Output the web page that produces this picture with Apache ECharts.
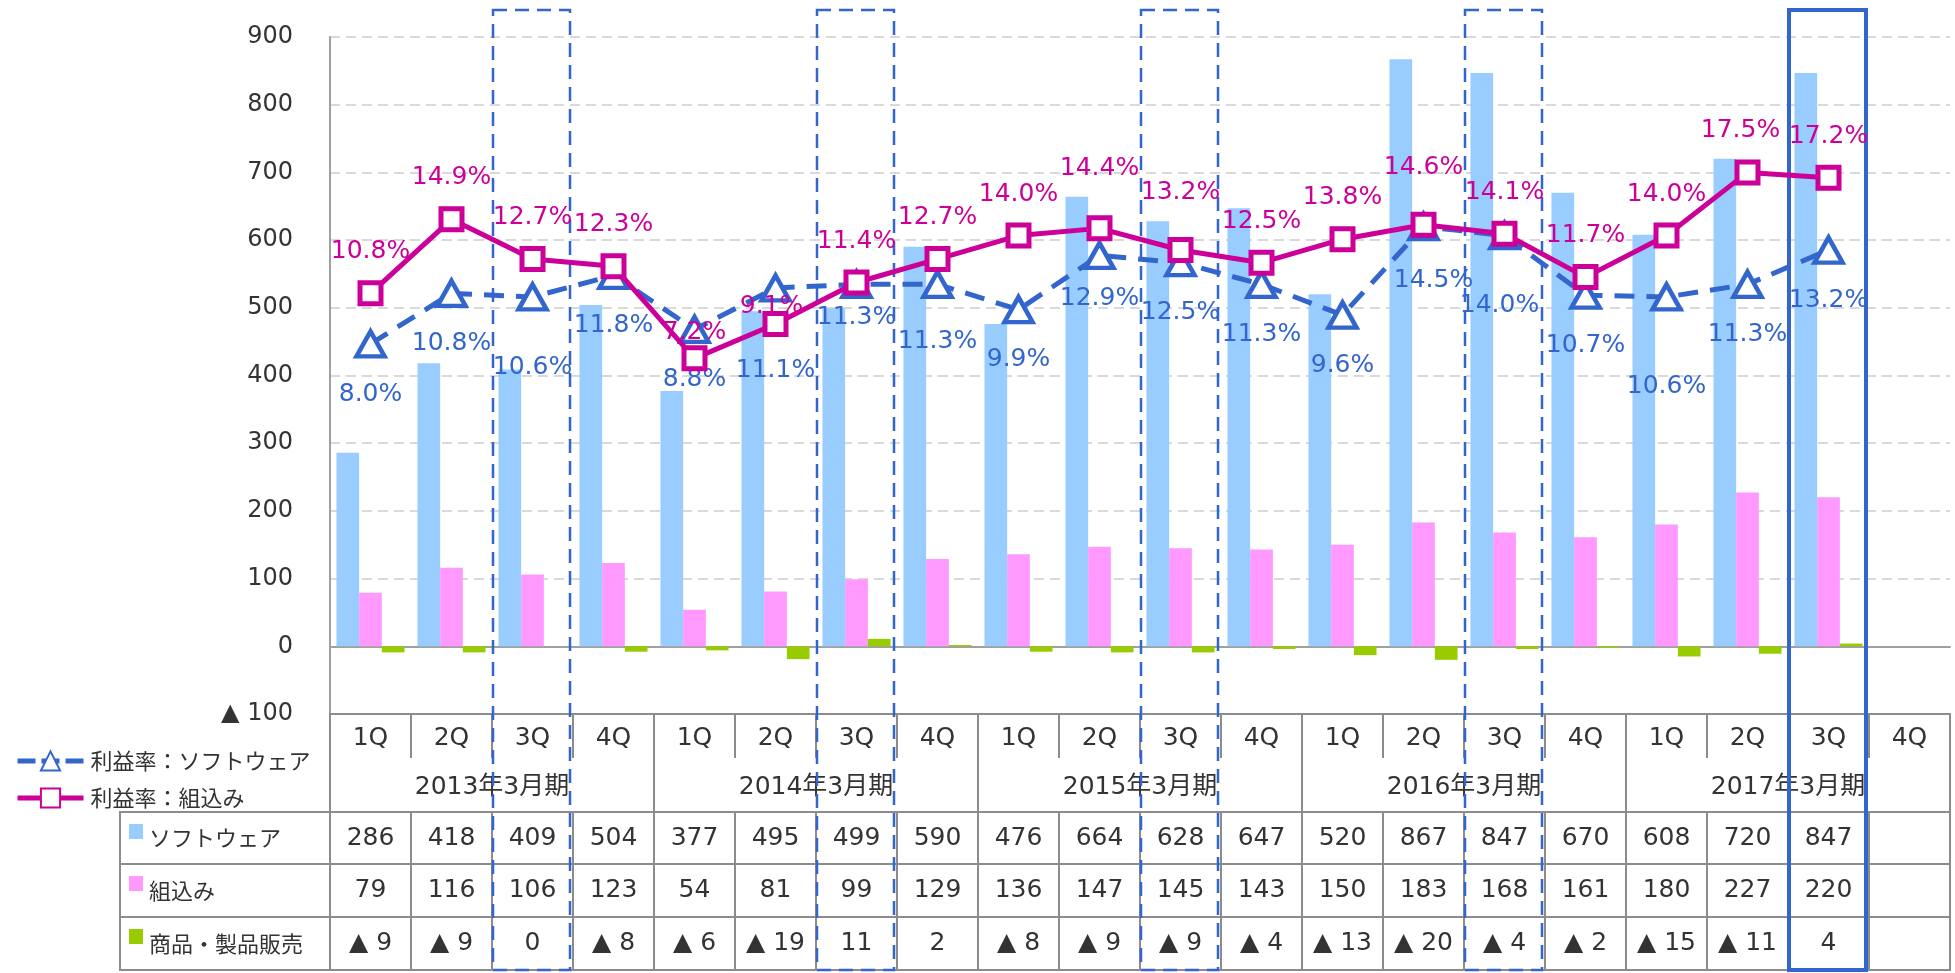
<!DOCTYPE html>
<html>
<head>
<meta charset="utf-8">
<script src="https://cdn.jsdelivr.net/npm/echarts@6/dist/echarts.min.js"></script>
<style>
html, body { margin: 0; padding: 0; background: #fff; }
#chart { width: 1955px; height: 973px; }
</style>
</head>
<body>
<div id="chart"></div>
<script>
// ---- data ----
var fiscalYears = ['2013年3月期', '2014年3月期', '2015年3月期', '2016年3月期', '2017年3月期'];
var quarters = ['1Q', '2Q', '3Q', '4Q'];
var rowNames = ['ソフトウェア', '組込み', '商品・製品販売'];
var lineNames = ['利益率：ソフトウェア', '利益率：組込み'];

var software = [286, 418, 409, 504, 377, 495, 499, 590, 476, 664, 628, 647, 520, 867, 847, 670, 608, 720, 847, null];
var embedded = [79, 116, 106, 123, 54, 81, 99, 129, 136, 147, 145, 143, 150, 183, 168, 161, 180, 227, 220, null];
var products = [-9, -9, 0, -8, -6, -19, 11, 2, -8, -9, -9, -4, -13, -20, -4, -2, -15, -11, 4, null];

var marginSoftware = [8.0, 10.8, 10.6, 11.8, 8.8, 11.1, 11.3, 11.3, 9.9, 12.9, 12.5, 11.3, 9.6, 14.5, 14.0, 10.7, 10.6, 11.3, 13.2, null];
var marginEmbedded = [10.8, 14.9, 12.7, 12.3, 7.2, 9.1, 11.4, 12.7, 14.0, 14.4, 13.2, 12.5, 13.8, 14.6, 14.1, 11.7, 14.0, 17.5, 17.2, null];

var yMin = -100, yMax = 900, yStep = 100;
var marginMin = -12.5, marginMax = 25;

var dashedCols = [2, 6, 10, 14];   // 3Q of past years
var currentCol = 18;               // 2017 3Q

// ---- styles ----
var barColors = ['#99CCFF', '#FF99FF', '#99CC00'];
var blue = '#3366CC', magenta = '#CC0099';
var textColor = '#333333', tableGray = '#8C8C8C';
var numFont = 'DejaVu Sans, Noto Sans CJK JP';
var jpFont = 'Noto Sans CJK JP';

// hand-placed label nudges (px) as in the original
var softLabelNudge = { 2: [0, 20], 5: [0, 32], 6: [0, -17], 7: [0, 7], 9: [0, -7], 13: [10, 4], 14: [-5, 20], 16: [0, 39] };
var embLabelNudge = { 4: [0, 16], 5: [-4, 24], 9: [0, -18], 10: [0, -16], 13: [0, -16], 17: [-7, 0] };

var categories = [];
fiscalYears.forEach(function (fy) {
  quarters.forEach(function (q) { categories.push(fy + ' ' + q); });
});

function fmtNum(v) {
  if (v == null) return '';
  return v < 0 ? '▲ ' + (-v) : String(v);
}
function withNudge(arr, nudge) {
  return arr.map(function (v, i) {
    return nudge[i] ? { value: v, label: { offset: nudge[i] } } : v;
  });
}

// table cells (row layout in px from table top)
var tableH = 256;
var rowEdges = [98, 150, 203, 256];
var tableCells = [];
categories.forEach(function (c, i) {
  tableCells.push({ kind: 'quarter', col: i, text: quarters[i % 4] });
});
fiscalYears.forEach(function (fy, j) {
  tableCells.push({ kind: 'year', col: j * 4, span: 4, text: fy });
});
[software, embedded, products].forEach(function (arr, r) {
  tableCells.push({ kind: 'head', col: 0, row: r, text: rowNames[r], color: barColors[r] });
  arr.forEach(function (v, i) {
    tableCells.push({ kind: 'value', col: i, row: r, text: fmtNum(v) });
  });
});

function txt(x, y, s, font, size, align) {
  return {
    type: 'text',
    style: {
      text: s, x: x, y: y, fill: textColor,
      fontFamily: font, fontSize: size,
      align: align || 'center', verticalAlign: 'middle'
    }
  };
}

function renderTable(params, api) {
  var c = tableCells[params.dataIndex];
  var band = api.size([1, 0])[0];
  var left = api.coord([c.col, 0])[0] - band / 2;
  var Y = function (v) { return api.coord([0, v])[1]; };
  var ls = { stroke: tableGray, lineWidth: 2, fill: null };
  var kids = [];
  if (c.kind === 'quarter') {
    kids.push({ type: 'line', shape: { x1: left, y1: Y(0), x2: left, y2: Y(44) }, style: ls });
    kids.push(txt(left + band / 2, Y(24), c.text, numFont, 25));
  } else if (c.kind === 'year') {
    kids.push({ type: 'rect', shape: { x: left, y: Y(0), width: band * c.span, height: Y(rowEdges[0]) - Y(0) }, style: ls });
    kids.push(txt(left + band * c.span / 2, Y(73), c.text, numFont, 25));
  } else if (c.kind === 'value') {
    var t = rowEdges[c.row], b = rowEdges[c.row + 1];
    kids.push({ type: 'rect', shape: { x: left, y: Y(t), width: band, height: Y(b) - Y(t) }, style: ls });
    kids.push(txt(left + band / 2, Y((t + b) / 2), c.text, numFont, 25));
  } else {
    var t2 = rowEdges[c.row], b2 = rowEdges[c.row + 1];
    var x0 = params.coordSys.x - 210;
    kids.push({ type: 'rect', shape: { x: x0, y: Y(t2), width: 210, height: Y(b2) - Y(t2) }, style: ls });
    kids.push({ type: 'rect', shape: { x: x0 + 9, y: Y(t2) + 12, width: 14, height: 15 }, style: { fill: c.color } });
    kids.push(txt(x0 + 29, Y((t2 + b2) / 2), c.text, jpFont, 22, 'left'));
  }
  return { type: 'group', children: kids };
}

var boxCols = dashedCols.concat([currentCol]);
function renderBox(params, api) {
  var col = boxCols[params.dataIndex];
  var band = api.size([1, 0])[0];
  var left = api.coord([col, 0])[0] - band / 2;
  var top = params.coordSys.y - 27;
  var bottom = api.coord([col, yMin])[1] + tableH;
  var solid = col === currentCol;
  return {
    type: 'rect',
    shape: { x: left + 1, y: top, width: band - 4, height: bottom - top },
    style: {
      fill: null, stroke: blue,
      lineWidth: solid ? 4 : 2.5,
      lineDash: solid ? null : [14, 8]
    }
  };
}

var pctLabel = function (p) { return p.value.toFixed(1) + '%'; };

var chart = echarts.init(document.getElementById('chart'));
var option = {
  animation: false,
  backgroundColor: '#fff',
  legend: {
    data: [
      { name: lineNames[0], lineStyle: { width: 5, type: [18, 6] } },
      { name: lineNames[1], lineStyle: { width: 5 } }
    ],
    orient: 'vertical',
    left: 10, top: 745,
    itemWidth: 66, itemHeight: 24, itemGap: 15,
    textStyle: { fontFamily: jpFont, fontSize: 22, color: textColor, padding: [0, 0, 0, 2] }
  },
  grid: [
    { left: 330, right: 5, top: 37, height: 677 },
    { left: 330, right: 5, top: 714, height: tableH }
  ],
  xAxis: [
    {
      type: 'category', gridIndex: 0, data: categories,
      axisLabel: { show: false }, axisTick: { show: false },
      axisLine: { onZero: true, lineStyle: { color: '#A0A0A0', width: 2 } }
    },
    { type: 'category', gridIndex: 1, data: categories, show: false }
  ],
  yAxis: [
    {
      type: 'value', gridIndex: 0, min: yMin, max: yMax, interval: yStep,
      axisLine: { show: true, lineStyle: { color: '#A0A0A0', width: 2 } },
      axisTick: { show: false },
      axisLabel: {
        margin: 37, fontSize: 24, fontFamily: numFont, color: textColor,
        formatter: function (v) { return v < 0 ? '▲ ' + (-v) : v; }
      },
      splitLine: { lineStyle: { color: '#D9D9D9', width: 2, type: [10, 6] } }
    },
    { type: 'value', gridIndex: 0, min: marginMin, max: marginMax, show: false, splitLine: { show: false } },
    { type: 'value', gridIndex: 1, min: 0, max: tableH, inverse: true, show: false }
  ],
  series: [
    {
      type: 'custom', name: 'table', xAxisIndex: 1, yAxisIndex: 2, z: 1,
      renderItem: renderTable,
      data: tableCells.map(function (c) { return [c.col, 0]; })
    },
    {
      type: 'bar', name: rowNames[0], data: software, z: 2,
      itemStyle: { color: barColors[0] }, barGap: '0%', barCategoryGap: '16%'
    },
    { type: 'bar', name: rowNames[1], data: embedded, z: 2, itemStyle: { color: barColors[1] } },
    { type: 'bar', name: rowNames[2], data: products, z: 2, itemStyle: { color: barColors[2] } },
    {
      type: 'custom', name: 'boxes', z: 3,
      renderItem: renderBox,
      data: boxCols.map(function (c) { return [c, 0]; })
    },
    {
      type: 'line', name: lineNames[0], yAxisIndex: 1, data: withNudge(marginSoftware, softLabelNudge), z: 4,
      symbol: 'triangle', symbolSize: [28, 25],
      lineStyle: { color: blue, width: 5, type: [20, 12] },
      itemStyle: { color: '#fff', borderColor: blue, borderWidth: 4.5 },
      label: {
        show: true, position: 'bottom', distance: 23,
        color: blue, fontSize: 25, fontFamily: numFont, formatter: pctLabel
      }
    },
    {
      type: 'line', name: lineNames[1], yAxisIndex: 1, data: withNudge(marginEmbedded, embLabelNudge), z: 5,
      symbol: 'rect', symbolSize: 21,
      lineStyle: { color: magenta, width: 5 },
      itemStyle: { color: '#fff', borderColor: magenta, borderWidth: 5 },
      label: {
        show: true, position: 'top', distance: 16,
        color: magenta, fontSize: 25, fontFamily: numFont, formatter: pctLabel
      }
    }
  ]
};
chart.setOption(option);
window.onresize = chart.resize;
</script>
</body>
</html>
